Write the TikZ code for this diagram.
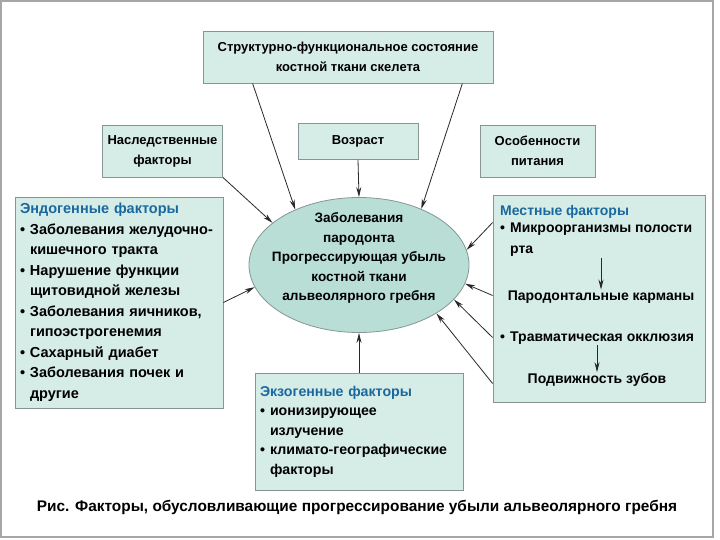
\documentclass[tikz,border=0pt]{standalone}
\usepackage{fontspec}
\setmainfont{Liberation Sans}
\usetikzlibrary{shapes.geometric,arrows.meta}
\definecolor{boxfill}{RGB}{214,236,230}
\definecolor{corefill}{RGB}{184,222,213}
\definecolor{boxline}{RGB}{135,150,148}
\definecolor{ttlblue}{RGB}{25,105,160}
\definecolor{inkgray}{RGB}{40,40,40}
\newcommand{\bul}{\makebox[10pt][l]{•}}
\newcommand{\ind}{\hspace*{10pt}}
\begin{document}
\begin{tikzpicture}[x=1pt,y=-1pt,>={Stealth[length=10pt,width=5pt]},
box/.style={draw=boxline,fill=boxfill,line width=0.8pt,inner sep=5pt,text=black,font=\bfseries\fontsize{13}{20}\selectfont,align=center},
core/.style={ellipse,draw=boxline,fill=corefill,line width=0.8pt,inner xsep=-12pt,inner ysep=-6pt,minimum width=220pt,minimum height=135pt,text=black,font=\bfseries\fontsize{13.6}{19.5}\selectfont,align=center},
txt/.style={inner sep=1pt,text=black,font=\bfseries\fontsize{14}{21}\selectfont,align=left},
link/.style={->,draw=inkgray,line width=0.8pt}]
\useasboundingbox (0,0) rectangle (720,540);
\draw[gray!70,line width=2pt] (1,1) rectangle (713,537);
\node[box,minimum width=290pt,minimum height=52pt] (skel) at (348,57) {Структурно-функциональное состояние\\костной ткани скелета};
\node[box,minimum width=119pt,minimum height=52pt] (her) at (162.5,151) {Наследственные\\факторы};
\node[box,minimum width=120pt,minimum height=36pt] (age) at (358,141.5) {Возраст};
\node[box,minimum width=115pt,minimum height=52pt] (pit) at (537.5,151) {Особенности\\питания};
\node[core] (core) at (359,265) {Заболевания\\пародонта\\Прогрессирующая убыль\\костной ткани\\альвеолярного гребня\rule[-16pt]{0pt}{16pt}};
\node[box,align=left,text width=198pt,minimum height=211pt,font=\bfseries\fontsize{14.5}{20.5}\selectfont] (endo) at (119,302.5) {\textcolor{ttlblue}{Эндогенные факторы}\\\bul Заболевания желудочно-\\\ind кишечного тракта\\\bul Нарушение функции\\\ind щитовидной железы\\\bul Заболевания яичников,\\\ind гипоэстрогенемия\\\bul Сахарный диабет\\\bul Заболевания почек и\\\ind другие};
\node[box,align=left,text width=198pt,minimum height=117pt,font=\bfseries\fontsize{14.2}{19.5}\selectfont] (exo) at (359,431.5) {\textcolor{ttlblue}{Экзогенные факторы}\\\bul ионизирующее\\\ind излучение\\\bul климато-географические\\\ind факторы};
\node[box,minimum width=212pt,minimum height=207pt] (loc) at (599,298.5) {};
\node[txt,anchor=west,text=ttlblue] (loct) at (499,212) {Местные факторы};
\node[txt,anchor=north west] (mikro) at (499,222) {\bul Микроорганизмы полости\\\ind рта};
\node[txt] (paro) at (601,297) {Пародонтальные карманы};
\node[txt,anchor=west] (trav) at (499,338) {\bul Травматическая окклюзия};
\node[txt] (podv) at (597,380) {Подвижность зубов};
\node[text=black,font=\bfseries\fontsize{15.4}{18}\selectfont] (cap) at (357,507) {Рис. Факторы, обусловливающие прогрессирование убыли альвеолярного гребня};
% arrows into the ellipse
\draw[link] ([xshift=50pt]skel.south west) -- (core.139);\draw[link] ([xshift=-31pt]skel.south east) -- (core.42);\draw[link] (age.south) -- (core.north);
\draw[link] (her.south east) -- (core.154);\draw[link] (endo.east) -- (core.192);\draw[link] (exo.north) -- (core.south);
\draw[link] ([yshift=76pt]loc.west) -- (core.8);\draw[link] ([yshift=3pt]loc.west) -- (core.-10);\draw[link] ([yshift=-39pt]loc.west) -- (core.-20);\draw[link] ([yshift=-85pt]loc.west) -- (core.-32);
% inside the local box
\draw[link] (mikro.south -| paro.north) -- (paro.north);\draw[link] (trav.south -| podv.north) -- (podv.north);
\end{tikzpicture}
\end{document}
